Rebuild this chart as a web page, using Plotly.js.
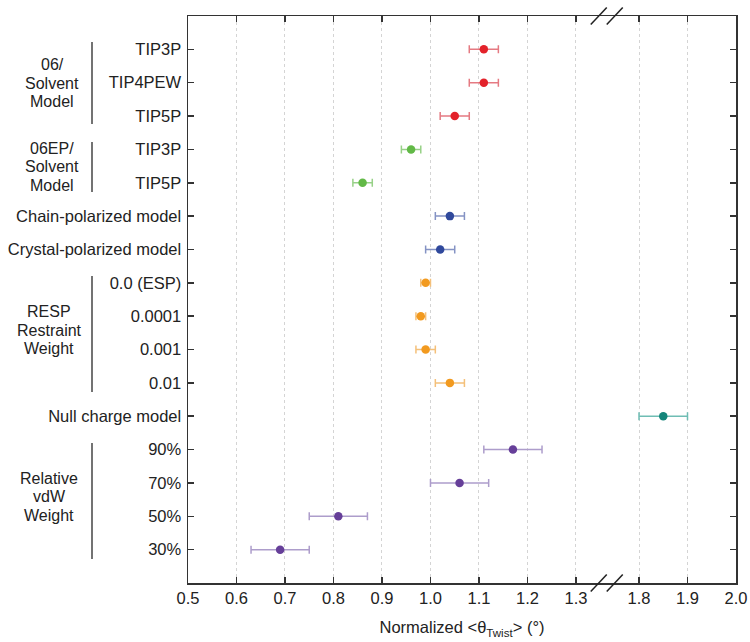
<!DOCTYPE html>
<html>
<head>
<meta charset="utf-8">
<script src="https://cdn.plot.ly/plotly-3.0.1.min.js"></script>
<style>html,body{margin:0;padding:0;background:#fff;}#chart{width:750px;height:642px;}</style>
</head>
<body>
<div id="chart"></div>
<script>
// ---- data ----
const rowLabels = ["TIP3P","TIP4PEW","TIP5P","TIP3P","TIP5P","Chain-polarized model","Crystal-polarized model","0.0 (ESP)","0.0001","0.001","0.01","Null charge model","90%","70%","50%","30%"];
const values = [1.11,1.11,1.05,0.96,0.86,1.04,1.02,0.99,0.98,0.99,1.04,1.85,1.17,1.06,0.81,0.69];
const errors = [0.03,0.03,0.03,0.02,0.02,0.03,0.03,0.01,0.01,0.02,0.03,0.05,0.06,0.06,0.06,0.06];
const rowGroup = ["06","06","06","06EP","06EP","polar","polar","resp","resp","resp","resp","null","vdw","vdw","vdw","vdw"];
const groupNames = ["06","06EP","polar","resp","null","vdw"];
const markerColors = ["#e3222a","#62b947","#30499c","#f29a1f","#14857a","#663f99"];
const errorColors = ["#e57a82","#97d187","#8593c4","#f4c07a","#6fbdb4","#ad9dcb"];
const tickValuesShown = [0.5,0.6,0.7,0.8,0.9,1.0,1.1,1.2,1.3,1.8,1.9,2.0];
const groupTexts = [
  {lines:["06/","Solvent","Model"], yc:83.3, xc:52, bar:[42,124]},
  {lines:["06EP/","Solvent","Model"], yc:166.7, xc:52, bar:[142,192]},
  {lines:["RESP","Restraint","Weight"], yc:330, xc:49, bar:[276,392]},
  {lines:["Relative","vdW","Weight"], yc:496.7, xc:49, bar:[443,559]}
];

// ---- axis break ----
const BREAK_AT = 1.8;
const BREAK_SHIFT = 0.37;
const xmap = v => (v >= BREAK_AT ? v - BREAK_SHIFT : v);

// ---- layout geometry ----
const W = 750, H = 642;
const M = {l:188, r:14, t:16, b:59};
const PW = W - M.l - M.r, PH = H - M.t - M.b;
const px2paperX = px => (px - M.l) / PW;
const px2paperY = py => 1 - (py - M.t) / PH;
const LINE_GAP = 18.5;

const traces = groupNames.map((g, gi) => {
  const idx = rowGroup.map((r, i) => r === g ? i : -1).filter(i => i >= 0);
  return {
    type: 'scatter', mode: 'markers',
    x: idx.map(i => xmap(values[i])),
    y: idx.map(i => i),
    marker: {color: markerColors[gi], size: 8.5},
    error_x: {type: 'data', array: idx.map(i => errors[i]), visible: true,
              color: errorColors[gi], thickness: 1.5, width: 4},
    showlegend: false, hoverinfo: 'skip'
  };
});

const font = {family: 'Arial, "Liberation Sans", Helvetica, sans-serif', size: 16.5, color: '#222'};
const groupFont = {family: font.family, size: 16, color: '#222'};

const annotations = [];
const shapes = [];
groupTexts.forEach(gt => {
  gt.lines.forEach((t, k) => {
    annotations.push({xref:'paper', yref:'paper', x: px2paperX(gt.xc), y: px2paperY(gt.yc + (k - 1) * LINE_GAP),
      text: t, showarrow: false, xanchor:'center', yanchor:'middle', font: groupFont});
  });
  shapes.push({type:'line', xref:'paper', yref:'paper', x0: px2paperX(92), x1: px2paperX(92),
    y0: px2paperY(gt.bar[0]), y1: px2paperY(gt.bar[1]), line:{color:'#444', width:1.5}});
});
// break marks "//" on top and bottom axes
const breakCenters = [1.347, 1.380];
[0, 1].forEach(yp => {
  breakCenters.forEach(xc => {
    shapes.push({type:'line', xref:'x', yref:'paper', xsizemode:'pixel', ysizemode:'pixel',
      xanchor: xc, yanchor: yp, x0:-8, x1:8, y0:-8.5, y1:8.5,
      line:{color:'#222', width:1.5}});
  });
});

const layout = {
  width: W, height: H,
  margin: M,
  paper_bgcolor: '#fff', plot_bgcolor: '#fff',
  font: font,
  xaxis: {
    range: [xmap(0.5), xmap(2.0)],
    tickvals: tickValuesShown.map(xmap),
    ticktext: tickValuesShown.map(v => v.toFixed(1)),
    ticks: 'inside', ticklen: 6, tickwidth: 1.5, tickcolor: '#333',
    showline: true, linecolor: '#333', linewidth: 1.5, mirror: 'ticks',
    showgrid: true, gridcolor: '#d4d4d4', griddash: 'dot', gridwidth: 1,
    zeroline: false,
    tickfont: font,
    title: {text: 'Normalized &lt;θ<sub>Twist</sub>&gt; (°)', font: font, standoff: 15}
  },
  yaxis: {
    range: [16, -1],
    tickvals: rowLabels.map((_, i) => i),
    ticktext: rowLabels,
    ticks: 'inside', ticklen: 6, tickwidth: 1.5, tickcolor: '#333',
    showline: true, linecolor: '#333', linewidth: 1.5, mirror: 'ticks',
    showgrid: false, zeroline: false,
    ticklabelstandoff: 2,
    tickfont: font
  },
  annotations: annotations,
  shapes: shapes
};

Plotly.newPlot('chart', traces, layout, {displayModeBar: false, staticPlot: true});
</script>
</body>
</html>
